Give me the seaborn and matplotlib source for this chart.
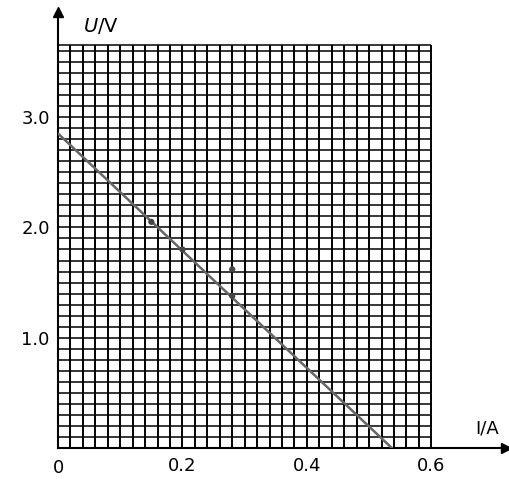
import numpy as np
import pandas as pd
import matplotlib
matplotlib.use("Agg")
import matplotlib.pyplot as plt
import seaborn as sns

# data
current = [0.15, 0.20, 0.28, 0.28]          # I / A
voltage = [2.05, 1.80, 1.62, 1.38]          # U / V
fit_current = [0.0, 0.537]
fit_voltage = [2.85, 0.0]
x_ticks = [0.2, 0.4, 0.6]
x_tick_labels = ["0.2", "0.4", "0.6"]
y_ticks = [1.0, 2.0, 3.0]
y_tick_labels = ["1.0", "2.0", "3.0"]

sns.set_style("white")
plt.rcParams['font.family'] = ['DejaVu Sans']
plt.rcParams['text.color'] = 'black'
plt.rcParams['xtick.color'] = 'black'
plt.rcParams['ytick.color'] = 'black'

fig = plt.figure(figsize=(5.09, 4.82), dpi=100)
ax = fig.add_axes([0.114, 0.07, 0.88, 0.905])
ax.set_xlim(0, 0.72)
ax.set_ylim(0, 3.95)

# grid paper
gx = np.round(np.arange(0, 0.6001, 0.02), 3)
gy = np.round(np.arange(0, 3.6001, 0.1), 3)
ax.vlines(gx, 0, 3.65, color="black", lw=1.4, zorder=1)
ax.hlines(np.append(gy, 3.65), 0, 0.6, color="black", lw=1.1, zorder=1)

fit = pd.DataFrame({"I": fit_current, "U": fit_voltage})
sns.lineplot(data=fit, x="I", y="U", ax=ax, color="#666666", lw=1.8, zorder=3)
pts = pd.DataFrame({"I": current, "U": voltage})
sns.scatterplot(data=pts, x="I", y="U", ax=ax, color="#444444", s=20, marker="o",
                edgecolor="none", zorder=4)

for s in ["top", "right"]:
    ax.spines[s].set_visible(False)
ax.spines["left"].set_linewidth(1.5)
ax.spines["bottom"].set_linewidth(1.5)
ax.spines["left"].set_color("black")
ax.spines["bottom"].set_color("black")

# arrows
ax.plot(1, 0, ">", transform=ax.transAxes, color="black", ms=7, clip_on=False)
ax.plot(0, 1, "^", transform=ax.transAxes, color="black", ms=7, clip_on=False)

ax.set_xticks(x_ticks)
ax.set_xticklabels(x_tick_labels)
ax.set_yticks(y_ticks)
ax.set_yticklabels(y_tick_labels)
ax.tick_params(length=0, labelsize=13, pad=6)
ax.set_xlabel("")
ax.set_ylabel("")
ax.text(0, -0.1, "0", ha="center", va="top", fontsize=13)
ax.text(0.04, 3.82, "$U$/V", ha="left", va="center", fontsize=14)
ax.text(0.69, 0.1, "I/A", ha="center", va="bottom", fontsize=13)

fig.savefig("out.png", dpi=100)
